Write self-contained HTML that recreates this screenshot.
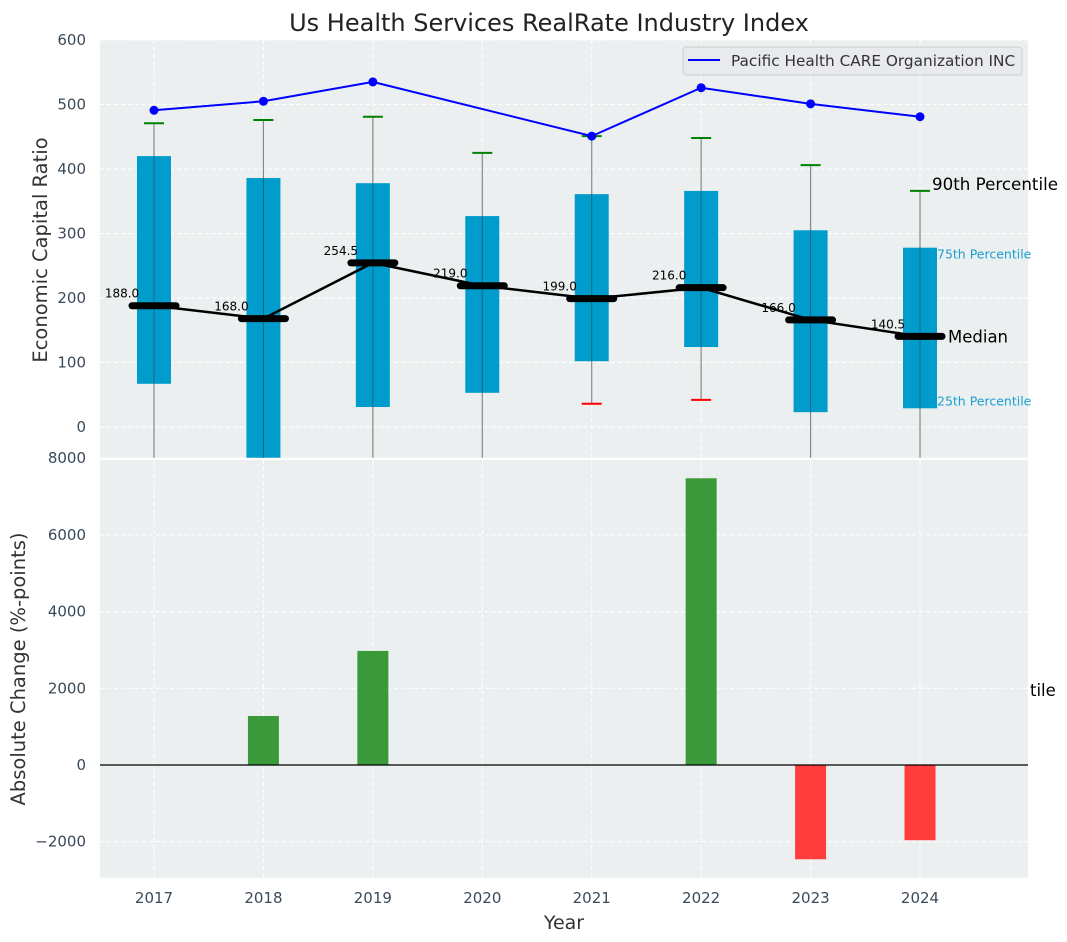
<!DOCTYPE html>
<html><head><meta charset="utf-8"><style>
body{margin:0;background:#fff;}
svg{display:block;font-family:"DejaVu Sans","Liberation Sans",sans-serif;}
</style></head><body>
<svg id="chart" width="1067" height="942" xmlns="http://www.w3.org/2000/svg">
<text x="549" y="31" text-anchor="middle" font-size="24" fill="#222">Us Health Services RealRate Industry Index</text>
<g id="topPanel"></g><g id="botPanel"></g>
</svg>
<script>
const years=[2017,2018,2019,2020,2021,2022,2023,2024];
const p10=[null,null,null,null,36,42,null,null];
const p25=[67,-60,31,53,102,124,23,29];
const medians=[188.0,168.0,254.5,219.0,199.0,216.0,166.0,140.5];
const p75=[420,386,378,327,361,366,305,278];
const p90=[471,476,481,425,451,448,406,366];
const company=[491,505,535,null,451,526,501,481];
const changes=[0,1278,2974,0,0,7477,-2458,-1961];
const topTicks=[0,100,200,300,400,500,600];
const botTicks=[-2000,0,2000,4000,6000,8000];

const NS="http://www.w3.org/2000/svg";
const L=100,R=1028,T1=40,B1=457.7,T2=460,B2=877.7;
const X=v=>154+(v-2017)*109.43;
const Y1=v=>427-v*0.645;
const Y2=v=>765-v*0.03835;
function el(tag,attrs,parent,text){const e=document.createElementNS(NS,tag);for(const k in attrs)e.setAttribute(k,attrs[k]);if(text!=null)e.textContent=text;parent.appendChild(e);return e;}
const svg=document.getElementById('chart');
const gTop=document.getElementById('topPanel'),gBot=document.getElementById('botPanel');
const defs=el('defs',{},svg);
const c1=el('clipPath',{id:'c1'},defs);el('rect',{x:L,y:T1,width:R-L,height:B1-T1},c1);
const c2=el('clipPath',{id:'c2'},defs);el('rect',{x:L,y:T2,width:R-L,height:B2-T2},c2);
let bg=el('rect',{x:L,y:T1,width:R-L,height:B1-T1,fill:'#ebeff0'},gTop);


bg=el('rect',{x:L,y:T2,width:R-L,height:B2-T2,fill:'#ebeff0'},gBot);


const g1=el('g',{'clip-path':'url(#c1)'},gTop);
const g2=el('g',{'clip-path':'url(#c2)'},gBot);
years.forEach(y=>{
 el('line',{x1:X(y),x2:X(y),y1:T1,y2:B1,stroke:'#fff','stroke-dasharray':'4,3','stroke-width':1},g1);
 el('line',{x1:X(y),x2:X(y),y1:T2,y2:B2,stroke:'#fff','stroke-dasharray':'4,3','stroke-width':1},g2);
 const t=el('text',{x:X(y),y:903,'text-anchor':'middle','font-size':15,fill:'#3a4a5a'},svg,String(y));
 
 
});
topTicks.forEach(v=>{
 el('line',{x1:L,x2:R,y1:Y1(v),y2:Y1(v),stroke:'#fff','stroke-dasharray':'4,3'},g1);
 const t=el('text',{x:86,y:Y1(v)+5,'text-anchor':'end','font-size':15,fill:'#3a4a5a'},svg,String(v));
 
 
});
botTicks.forEach(v=>{
 el('line',{x1:L,x2:R,y1:Y2(v),y2:Y2(v),stroke:'#fff','stroke-dasharray':'4,3'},g2);
 const t=el('text',{x:86,y:Y2(v)+5,'text-anchor':'end','font-size':15,fill:'#3a4a5a'},svg,(v<0?'\u2212'+Math.abs(v):String(v)));
 
 
});
years.forEach((y,i)=>{
 const x=X(y);
 const lo=p10[i]==null?-100:p10[i];
 el('line',{x1:x,x2:x,y1:Y1(lo),y2:Y1(p90[i]),stroke:'#888','stroke-width':1.2},g1);
 const b=el('rect',{x:x-17,y:Y1(p75[i]),width:34,height:Y1(p25[i])-Y1(p75[i]),fill:'#009ccc'},g1);
 
 
 el('line',{x1:x,x2:x,y1:Y1(p75[i]),y2:Y1(p25[i]),stroke:'#333','stroke-width':1,opacity:0.5},g1);
 const w=el('line',{x1:x-10,x2:x+10,y1:Y1(p90[i]),y2:Y1(p90[i]),stroke:'green','stroke-width':2},g1);
 
 
 if(p10[i]!=null){
  const r=el('line',{x1:x-10,x2:x+10,y1:Y1(p10[i]),y2:Y1(p10[i]),stroke:'red','stroke-width':2},g1);
  
  
 }
});
const mp=years.map((y,i)=>X(y)+','+Y1(medians[i])).join(' ');
el('polyline',{points:mp,fill:'none',stroke:'#000','stroke-width':2.5},g1);
years.forEach((y,i)=>{
 const m=el('line',{x1:X(y)-22,x2:X(y)+22,y1:Y1(medians[i]),y2:Y1(medians[i]),stroke:'#000','stroke-width':7,'stroke-linecap':'round'},g1);
 
 
 const t=el('text',{x:X(y)-32,y:Y1(medians[i])-8,'text-anchor':'middle','font-size':12,fill:'#000'},svg,medians[i].toFixed(1));
 
 
});
let pts=[];years.forEach((y,i)=>{if(company[i]!=null)pts.push(X(y)+','+Y1(company[i]));});
const cl=el('polyline',{points:pts.join(' '),fill:'none',stroke:'blue','stroke-width':2},g1);


years.forEach((y,i)=>{if(company[i]!=null){
 const c=el('circle',{cx:X(y),cy:Y1(company[i]),r:4.5,fill:'blue'},g1);
 
 
}});
const last=years.length-1, lx=X(years[last]);
[['90th Percentile',lx+12,Y1(p90[last])-1,16.7,'#000','p90-annotation'],
 ['75th Percentile',lx+17,Y1(p75[last])+11,12.5,'#1a9fd0','p75-annotation'],
 ['Median',lx+28,Y1(medians[last])+6,16.5,'#000','median-annotation'],
 ['25th Percentile',lx+17,Y1(p25[last])-3,12.5,'#1a9fd0','p25-annotation'],
 ['tile',1030,696,16.5,'#000','clipped-annotation']].forEach(a=>{
 const t=el('text',{x:a[1],y:a[2],'font-size':a[3],fill:a[4]},svg,a[0]);
 
 
});
const lg=el('g',{},svg);


el('rect',{x:683,y:47,width:339,height:28,rx:3,fill:'#e8eaee',stroke:'#ccc'},lg);
el('line',{x1:688,x2:720,y1:60,y2:60,stroke:'blue','stroke-width':2},lg);
const lt=el('text',{x:731,y:66,'font-size':15.3,fill:'#333'},lg,'Pacific Health CARE Organization INC');


years.forEach((y,i)=>{
 const v=changes[i]; if(v===0)return;
 const b=el('rect',{x:X(y)-15.5,y:Math.min(Y2(0),Y2(v)),width:31,height:Math.abs(Y2(v)-Y2(0)),fill:v>0?'#3a9a3a':'#ff3d3d'},g2);
 
 
});
el('line',{x1:L,x2:R,y1:Y2(0),y2:Y2(0),stroke:'#000','stroke-width':1.2},g2);
let t=el('text',{x:0,y:0,'font-size':19.5,fill:'#333','text-anchor':'middle',transform:'translate(47,250) rotate(-90)'},svg,'Economic Capital Ratio');


t=el('text',{x:0,y:0,'font-size':19.5,fill:'#333','text-anchor':'middle',transform:'translate(25,669) rotate(-90)'},svg,'Absolute Change (%-points)');


t=el('text',{x:564,y:929,'font-size':19,fill:'#333','text-anchor':'middle'},svg,'Year');


</script>
</body></html>
